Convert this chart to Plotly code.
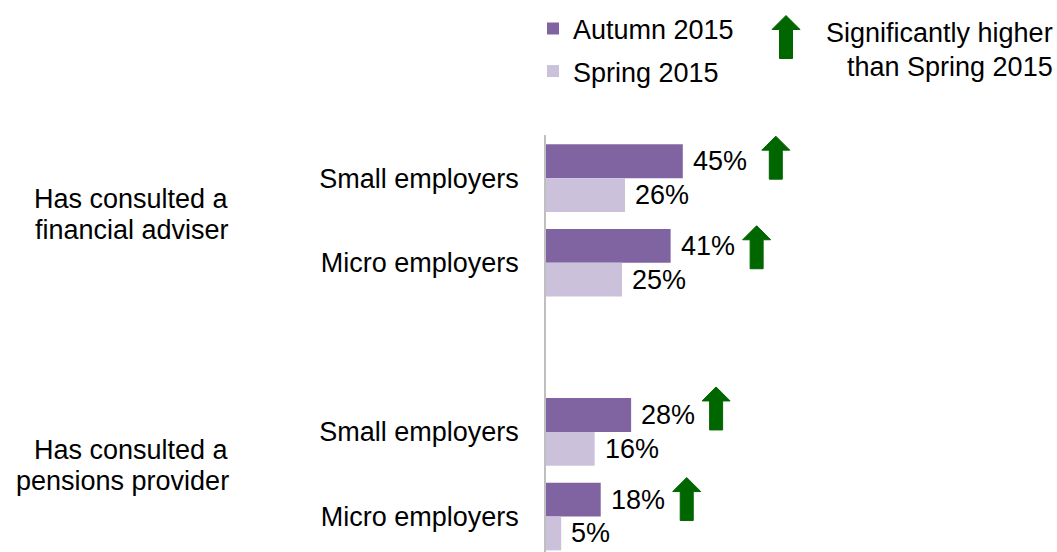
import plotly.graph_objects as go

# ---- data ----
row_labels = ["Small employers", "Micro employers", "Small employers", "Micro employers"]
row_positions = [0, 1, 3, 4]
group_lines = [["Has consulted a", "financial adviser"],
               ["Has consulted a", "pensions provider"]]
series_names = ["Autumn 2015", "Spring 2015"]
autumn_2015 = [45, 41, 28, 18]
spring_2015 = [26, 25, 16, 5]
significantly_higher = [True, True, True, True]
sig_legend_lines = ["Significantly higher", "than Spring 2015"]

# ---- styling ----
FONT = "Liberation Sans, Arial, sans-serif"
FS = 27
C_AUTUMN = "#8064A2"
C_SPRING = "#CCC1DA"
C_ARROW = "#006600"

W, H = 1057, 552
ML, MT = 546, 135
PW, PH = W - ML, H - MT
PX_PER_PCT = 3.04
PX_PER_ROW = 84.6
Y_TOP = -0.51
Y_BOT = Y_TOP + PH / PX_PER_ROW


def paper_x(px):
    return (px - ML) / PW


def paper_y(py):
    return 1 - (py - MT) / PH


def arrow_path(cx, bottom, width=28, height=43, head=14, shaft=13):
    hw, hs = width / 2, shaft / 2
    top = bottom + height
    neck = top - head
    pts = [(cx - hs, bottom), (cx + hs, bottom), (cx + hs, neck), (cx + hw, neck),
           (cx, top), (cx - hw, neck), (cx - hs, neck)]
    return "M " + " L ".join(f"{x:.1f},{y:.1f}" for x, y in pts) + " Z"


# per-row arrow placement (pixels from the end of the Autumn bar / row centre)
arrow_dx = [93, 86, 85, 86]
arrow_dy = [-1, -6, 2, -4]

fig = go.Figure()
fig.add_trace(go.Bar(y=row_positions, x=autumn_2015, orientation="h", name=series_names[0],
                     marker=dict(color=C_AUTUMN, line=dict(width=0)), legend="legend",
                     hoverinfo="skip"))
fig.add_trace(go.Bar(y=row_positions, x=spring_2015, orientation="h", name=series_names[1],
                     marker=dict(color=C_SPRING, line=dict(width=0)), legend="legend2",
                     hoverinfo="skip"))

annotations = []
for pos, a, s in zip(row_positions, autumn_2015, spring_2015):
    annotations.append(dict(x=a, y=pos - 0.2, xref="x", yref="y", text=f"{a}%",
                            xanchor="left", yanchor="middle", xshift=8, showarrow=False,
                            font=dict(family=FONT, size=FS, color="black")))
    annotations.append(dict(x=s, y=pos + 0.2, xref="x", yref="y", text=f"{s}%",
                            xanchor="left", yanchor="middle", xshift=8, showarrow=False,
                            font=dict(family=FONT, size=FS, color="black")))

# group labels on the far left (two lines each, centred between the rows)
group_centres = [214.8, 465.5]
LINE_GAP = 31
for lines, cy in zip(group_lines, group_centres):
    for k, line in enumerate(lines):
        annotations.append(dict(x=paper_x(231), y=paper_y(cy + (k - 0.5) * LINE_GAP),
                                xref="paper", yref="paper",
                                text=line, xanchor="right", yanchor="middle", showarrow=False,
                                font=dict(family=FONT, size=FS, color="black")))

# significance key text
for line, cy in zip(sig_legend_lines, [33.0, 67.0]):
    annotations.append(dict(x=paper_x(1055), y=paper_y(cy), xref="paper", yref="paper",
                            text=line, xanchor="right", yanchor="middle", showarrow=False,
                            font=dict(family=FONT, size=FS, color="black")))

shapes = []
for pos, a, sig, dx, dy in zip(row_positions, autumn_2015, significantly_higher, arrow_dx, arrow_dy):
    if sig:
        shapes.append(dict(type="path", xref="x", yref="y", xsizemode="pixel",
                           ysizemode="pixel", xanchor=a, yanchor=pos,
                           path=arrow_path(dx, dy), fillcolor=C_ARROW,
                           line=dict(color=C_ARROW, width=1)))
# significance key arrow
shapes.append(dict(type="path", xref="paper", yref="paper", xsizemode="pixel",
                   ysizemode="pixel", xanchor=paper_x(786), yanchor=paper_y(58.5),
                   path=arrow_path(0, 0), fillcolor=C_ARROW,
                   line=dict(color=C_ARROW, width=1)))

legend_common = dict(xanchor="left", yanchor="middle", bgcolor="rgba(0,0,0,0)",
                     borderwidth=0, font=dict(family=FONT, size=FS, color="black"))

fig.update_layout(
    width=W, height=H,
    margin=dict(l=ML, r=0, t=MT, b=0, pad=0),
    paper_bgcolor="white", plot_bgcolor="white",
    barmode="group", bargap=0.2, bargroupgap=0,
    font=dict(family=FONT, size=FS, color="black"),
    xaxis=dict(range=[0, PW / PX_PER_PCT], visible=False, fixedrange=True),
    yaxis=dict(range=[Y_BOT, Y_TOP], tickvals=row_positions, ticktext=row_labels,
               showgrid=False, zeroline=False, showline=True, linecolor="#BFBFBF",
               linewidth=1.5, ticks="", ticklabelstandoff=20,
               tickfont=dict(family=FONT, size=FS, color="black"), fixedrange=True),
    legend=dict(x=paper_x(533), y=paper_y(29), **legend_common),
    legend2=dict(x=paper_x(533), y=paper_y(71.5), **legend_common),
    annotations=annotations,
    shapes=shapes,
    showlegend=True,
)

fig.write_html("out.html", config={"displayModeBar": False})
